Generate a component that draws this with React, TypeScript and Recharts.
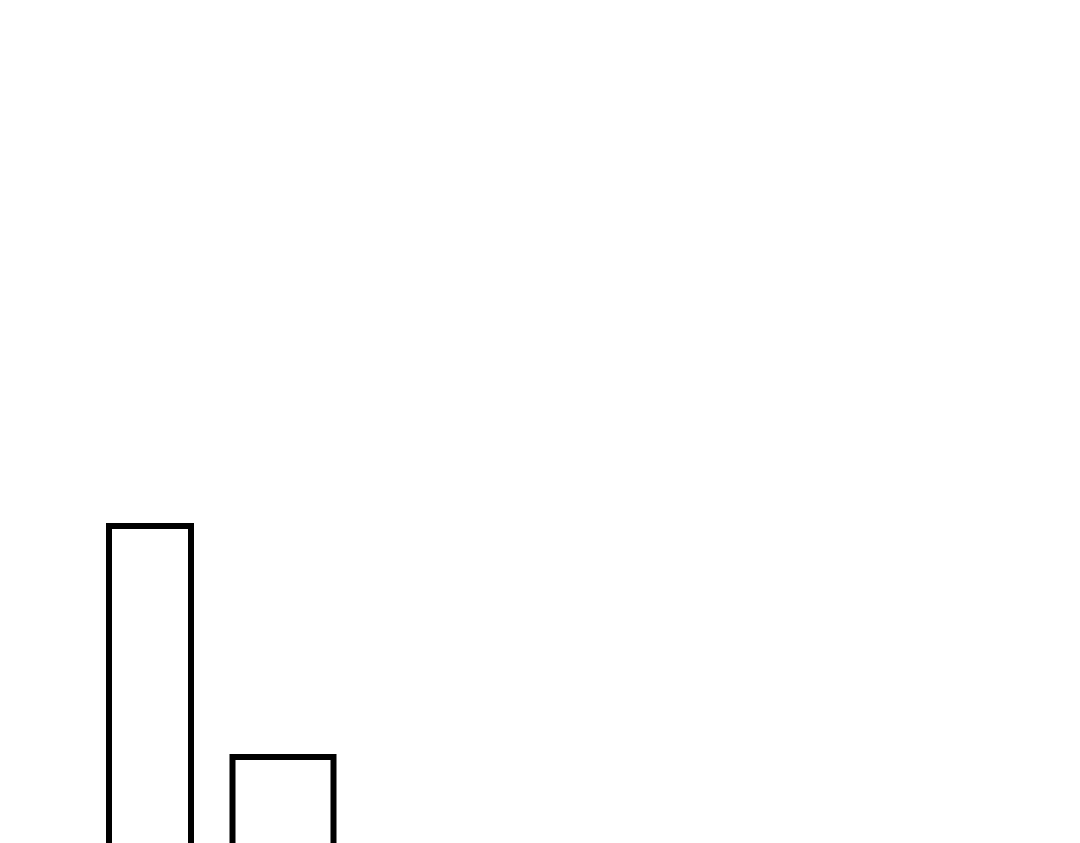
import React from "react";
import { BarChart, Bar, XAxis, YAxis } from "recharts";

// two outlined bars, the plot baseline sits below the visible frame
const categories = ["A", "B"];
const wideBarValues = [6, null];
const narrowBarValues = [null, 3];

const data = categories.map((name, i) => ({
  name,
  first: wideBarValues[i],
  second: narrowBarValues[i],
}));

export default function App() {
  return (
    <div
      style={{
        position: "fixed",
        top: 0,
        left: 0,
        width: 1080,
        height: 843,
        overflow: "hidden",
        background: "#ffffff",
      }}
    >
      <BarChart
        width={1080}
        height={1000}
        data={data}
        margin={{ top: 526, right: 730, left: 83, bottom: 12 }}
      >
        <XAxis xAxisId="a" dataKey="name" hide />
        <XAxis xAxisId="b" dataKey="name" hide />
        <YAxis hide domain={[0, 6]} />
        <Bar
          xAxisId="a"
          dataKey="first"
          barSize={82}
          fill="#ffffff"
          stroke="#000000"
          strokeWidth={6}
          isAnimationActive={false}
        />
        <Bar
          xAxisId="b"
          dataKey="second"
          barSize={101}
          fill="#ffffff"
          stroke="#000000"
          strokeWidth={6}
          isAnimationActive={false}
        />
      </BarChart>
    </div>
  );
}
